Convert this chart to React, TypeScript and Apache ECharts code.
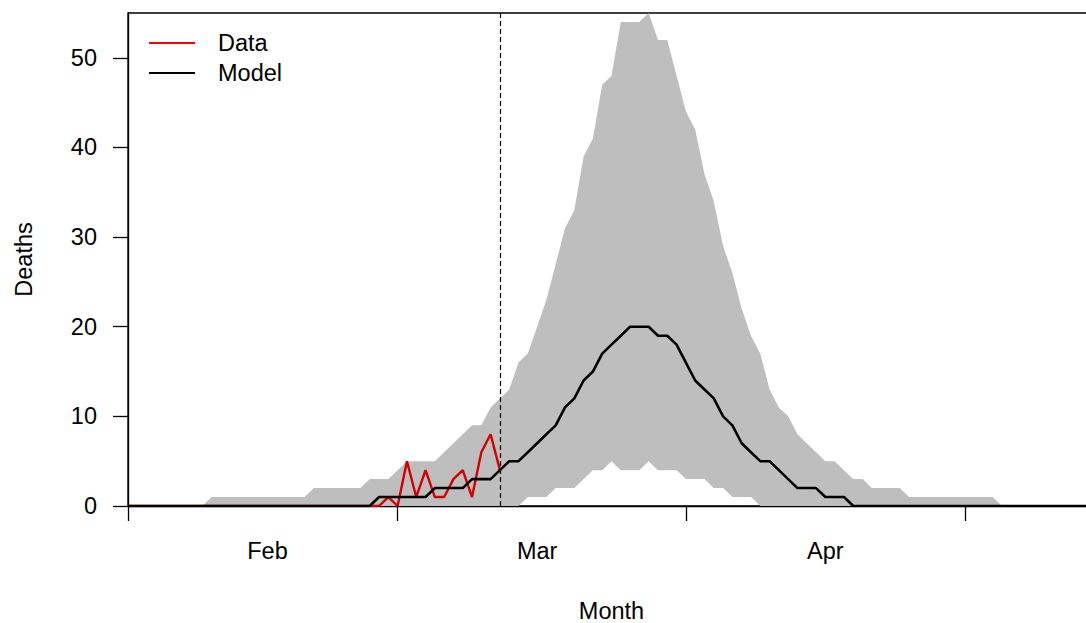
import React, { useEffect, useRef } from "react";
import * as echarts from "echarts";

// x = days since 1 Feb (index of each array)
const monthTickDays = [0, 29, 60, 90];
const monthLabelDays = [15, 44, 75];
const monthLabels = ["Feb", "Mar", "Apr"];
const yTicks = [0, 10, 20, 30, 40, 50];
const interventionDay = 40;
const legendNames = ["Data", "Model"];

const bandUpper = [
  0, 0, 0, 0, 0, 0, 0, 0, 0,
  1, 1, 1, 1, 1, 1, 1, 1, 1, 1, 1,
  2, 2, 2, 2, 2, 2,
  3, 3, 3,
  4,
  5, 5, 5, 5,
  6, 7, 8, 9, 9, 11, 12, 13, 16, 17,
  20, 23, 27, 31, 33, 39, 41, 47, 48, 54,
  54, 54, 55, 52, 52, 48, 44, 42, 37, 34,
  29, 26, 22, 19, 17, 13, 11, 10, 8, 7,
  6, 5, 5, 4, 3, 3, 2, 2, 2, 2,
  1, 1, 1, 1, 1, 1, 1, 1, 1, 1,
  0, 0, 0, 0, 0, 0, 0, 0, 0, 0, 0,
];

const bandLower = [
  0, 0, 0, 0, 0, 0, 0, 0, 0, 0,
  0, 0, 0, 0, 0, 0, 0, 0, 0, 0,
  0, 0, 0, 0, 0, 0, 0, 0, 0, 0,
  0, 0, 0, 0, 0, 0, 0, 0, 0, 0,
  0, 0, 0,
  1, 1, 1, 2, 2, 2, 3, 4, 4, 5,
  4, 4, 4, 5, 4, 4, 4, 3, 3, 3,
  2, 2, 1, 1, 1,
  0, 0, 0, 0, 0, 0, 0, 0, 0, 0,
  0, 0, 0, 0, 0, 0, 0, 0, 0, 0,
  0, 0, 0, 0, 0, 0, 0, 0, 0, 0,
  0, 0, 0, 0, 0, 0, 0,
];

const modelDeaths = [
  0, 0, 0, 0, 0, 0, 0, 0, 0, 0,
  0, 0, 0, 0, 0, 0, 0, 0, 0, 0,
  0, 0, 0, 0, 0, 0, 0,
  1, 1, 1, 1, 1, 1,
  2, 2, 2, 2,
  3, 3, 3,
  4, 5, 5, 6, 7, 8, 9, 11, 12, 14,
  15, 17, 18, 19, 20, 20, 20, 19, 19, 18,
  16, 14, 13, 12, 10, 9, 7, 6, 5, 5,
  4, 3, 2, 2, 2, 1, 1, 1,
  0, 0, 0, 0, 0, 0, 0, 0, 0, 0,
  0, 0, 0, 0, 0, 0, 0, 0, 0, 0,
  0, 0, 0, 0, 0, 0, 0,
];

const observedDeaths = [
  0, 0, 0, 0, 0, 0, 0, 0, 0, 0,
  0, 0, 0, 0, 0, 0, 0, 0, 0, 0,
  0, 0, 0, 0, 0, 0, 0,
  0, 1, 0, 5, 1, 4, 1, 1, 3, 4, 1, 6, 8, 4,
];

const FONT = '"Liberation Sans", Arial, Helvetica, sans-serif';
const FS = 23.5;

export default function App() {
  const ref = useRef<HTMLDivElement>(null);

  useEffect(() => {
    if (!ref.current) return;
    const chart = echarts.init(ref.current, null, { renderer: "svg" });
    const pairs = (arr: number[]) => arr.map((v, i) => [i, v]);
    const bandData = bandUpper.map((u, i) => [i, bandLower[i], u]);

    chart.setOption({
      animation: false,
      backgroundColor: "#ffffff",
      textStyle: { fontFamily: FONT },
      grid: {
        left: 128,
        top: 13,
        right: 25,
        bottom: 117,
        outerBoundsMode: "none",
        containLabel: false,
        show: true,
        borderColor: "#000",
        borderWidth: 1.3,
        backgroundColor: "transparent",
      },
      graphic: [
        {
          type: "line",
          shape: { x1: 149, y1: 43, x2: 195, y2: 43 },
          style: { stroke: "#FF0000", lineWidth: 2 },
          z: 10,
        },
        {
          type: "text",
          x: 218,
          y: 43,
          style: {
            text: legendNames[0],
            fontFamily: FONT,
            fontSize: FS,
            fill: "#000",
            verticalAlign: "middle",
            align: "left",
          },
          z: 10,
        },
        {
          type: "line",
          shape: { x1: 149, y1: 73, x2: 195, y2: 73 },
          style: { stroke: "#000", lineWidth: 2 },
          z: 10,
        },
        {
          type: "text",
          x: 218,
          y: 73,
          style: {
            text: legendNames[1],
            fontFamily: FONT,
            fontSize: FS,
            fill: "#000",
            verticalAlign: "middle",
            align: "left",
          },
          z: 10,
        },
      ],
      xAxis: {
        type: "value",
        min: 0,
        max: 104,
        splitLine: { show: false },
        axisLine: { show: true, onZero: false, lineStyle: { color: "#000", width: 1.3 } },
        axisTick: {
          show: true,
          length: 15,
          customValues: monthTickDays,
          lineStyle: { color: "#000", width: 1.3 },
        },
        axisLabel: {
          customValues: monthLabelDays,
          formatter: (v: number) => {
            const k = monthLabelDays.indexOf(Math.round(v));
            return k >= 0 ? monthLabels[k] : "";
          },
          margin: 33,
          fontFamily: FONT,
          fontSize: FS,
          color: "#000",
        },
        name: "Month",
        nameLocation: "middle",
        nameGap: 93,
        nameTextStyle: { fontFamily: FONT, fontSize: FS, color: "#000" },
      },
      yAxis: {
        type: "value",
        min: 0,
        max: 55,
        splitLine: { show: false },
        axisLine: { show: true, onZero: false, lineStyle: { color: "#000", width: 1.3 } },
        axisTick: {
          show: true,
          length: 15,
          customValues: yTicks,
          lineStyle: { color: "#000", width: 1.3 },
        },
        axisLabel: {
          customValues: yTicks,
          margin: 31,
          fontFamily: FONT,
          fontSize: FS,
          color: "#000",
        },
        name: "Deaths",
        nameLocation: "middle",
        nameGap: 92,
        nameTextStyle: { fontFamily: FONT, fontSize: FS, color: "#000" },
      },
      series: [
        {
          type: "custom",
          name: "band",
          silent: true,
          z: 1,
          data: bandData,
          encode: { x: 0, y: [1, 2] },
          renderItem: (params: any, api: any) => {
            if (params.dataIndex !== 0) return null;
            const pts: number[][] = [];
            for (let i = 0; i < bandData.length; i++) {
              pts.push(api.coord([bandData[i][0], bandData[i][2]]));
            }
            for (let i = bandData.length - 1; i >= 0; i--) {
              pts.push(api.coord([bandData[i][0], bandData[i][1]]));
            }
            return {
              type: "polygon",
              shape: { points: pts },
              style: { fill: "#BEBEBE", stroke: "none" },
            };
          },
        },
        {
          type: "line",
          name: "Data",
          data: pairs(observedDeaths),
          symbol: "none",
          silent: true,
          itemStyle: { color: "#D40000" },
          lineStyle: { color: "#D40000", width: 2.4 },
          z: 3,
        },
        {
          type: "line",
          name: "Model",
          data: pairs(modelDeaths),
          symbol: "none",
          silent: true,
          itemStyle: { color: "#000" },
          lineStyle: { color: "#000", width: 2.6 },
          z: 4,
          markLine: {
            silent: true,
            symbol: ["none", "none"],
            label: { show: false },
            lineStyle: { color: "#000", width: 1.2, type: [5, 3] },
            data: [{ xAxis: interventionDay }],
          },
        },
      ],
    });

    return () => chart.dispose();
  }, []);

  return (
    <div
      style={{
        position: "fixed",
        left: 0,
        top: 0,
        width: 1086,
        height: 623,
        overflow: "hidden",
        background: "#fff",
      }}
    >
      <div ref={ref} style={{ width: 1120, height: 623 }} />
    </div>
  );
}
